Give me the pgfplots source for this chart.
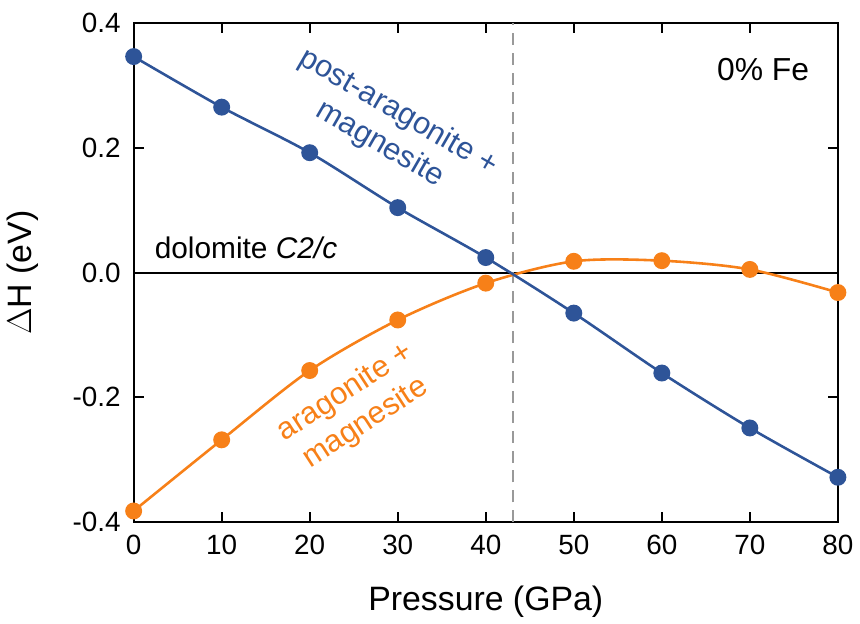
\documentclass[border=0pt]{standalone}
\usepackage{fontspec}
\setmainfont{Liberation Sans}
\usepackage{pgfplots}
\pgfplotsset{compat=1.18}
\definecolor{cblue}{RGB}{46,84,152}
\definecolor{corange}{RGB}{247,128,24}

\begin{document}
\begin{tikzpicture}
\begin{axis}[
  scale only axis,
  width=354pt, height=251pt,
  xmin=0, xmax=80, ymin=-0.4, ymax=0.4,
  xtick={0,10,...,80},
  ytick={-0.4,-0.2,0,0.2,0.4},
  tick align=inside,
  major tick length=5pt,
  tick style={black, line width=0.9pt},
  axis line style={line width=1pt},
  /pgf/number format/assume math mode=true,
  yticklabel style={/pgf/number format/fixed, /pgf/number format/fixed zerofill,
    /pgf/number format/precision=1, xshift=-3pt},
  ticklabel style={font=\fontsize{14}{16}\selectfont},
  xticklabel style={yshift=-3pt},
  xlabel={Pressure (GPa)},
  ylabel={$\Delta$H (eV)},
  label style={font=\fontsize{17}{19}\selectfont},
  xlabel style={at={(axis description cs:0.5,-0.159)}, anchor=center},
  ylabel style={at={(axis description cs:-0.158,0.5)}, anchor=center},
  clip=false,
]
% reference phase: dolomite C2/c
\addplot[black, line width=1pt, forget plot] coordinates {(0,0) (80,0)};
% transition pressure
\addplot[gray!80, line width=1pt, dash pattern=on 6pt off 4pt, forget plot]
  coordinates {(43.1,-0.4) (43.1,0.4)};

% aragonite + magnesite
\addplot[corange, line width=1.3pt, smooth, mark=*, mark size=3.6pt,
  mark options={fill=corange, draw=corange}]
  coordinates {(0,-0.382) (10,-0.268) (20,-0.157) (30,-0.076) (40,-0.017)
               (50,0.018) (60,0.019) (70,0.005) (80,-0.032)};

% post-aragonite + magnesite
\addplot[cblue, line width=1.3pt, smooth, mark=*, mark size=3.6pt,
  mark options={fill=cblue, draw=cblue}]
  coordinates {(0,0.346) (10,0.265) (20,0.192) (30,0.104) (40,0.024)
               (50,-0.065) (60,-0.161) (70,-0.249) (80,-0.328)};

\node[anchor=base west, font=\fontsize{15}{17}\selectfont] at (axis cs:1.6,0.022)
  {dolomite \textit{C2/c}};
\node[font=\fontsize{16}{19}\selectfont] at (axis cs:71.5,0.325) {0\% Fe};
\node[cblue, rotate=-30, align=center, font=\fontsize{15.5}{18.5}\selectfont]
  at (axis cs:29,0.231) {post-aragonite +\\magnesite};
\node[corange, rotate=33, align=center, font=\fontsize{15.5}{18.5}\selectfont]
  at (axis cs:25.2,-0.217) {aragonite +\\magnesite};
\end{axis}
% white space above the frame
\path ([yshift=11.5pt]current axis.north);
\end{tikzpicture}
\end{document}
